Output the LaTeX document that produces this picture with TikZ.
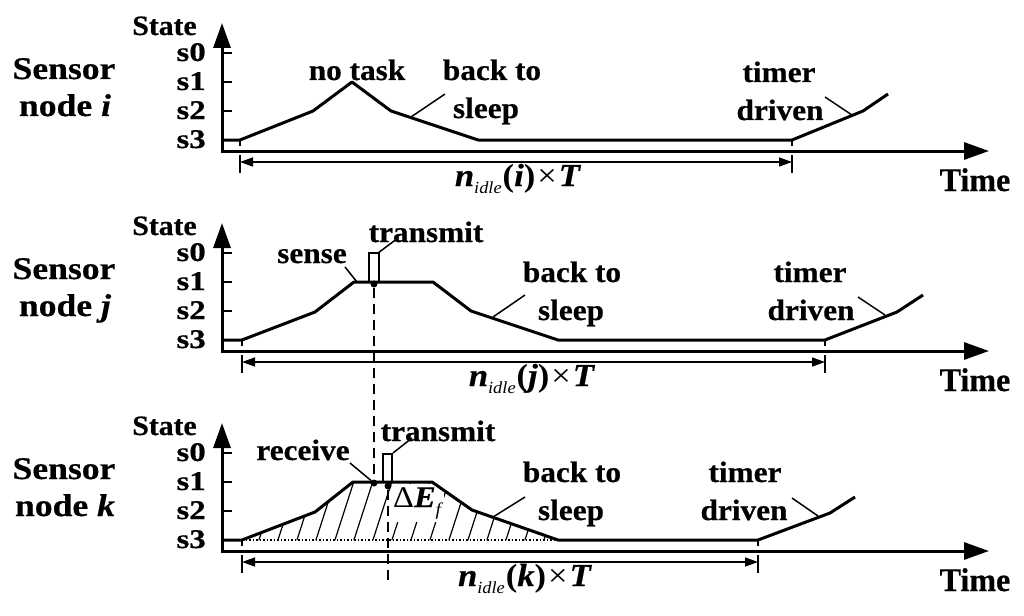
\documentclass[tikz,border=0pt]{standalone}
\usepackage{fontspec}
\setmainfont{Liberation Serif}
\newfontfamily\fSen{Liberation Serif}[FakeStretch=1.13, BoldFeatures={FakeBold=0.5}, BoldItalicFeatures={FakeBold=0.5}]
\newfontfamily\fLab{Liberation Serif}[FakeStretch=1.06, BoldFeatures={FakeBold=0.5}]
\newfontfamily\fSt{Liberation Serif}[FakeStretch=1.22, BoldFeatures={FakeBold=0.5}]
\newfontfamily\fTi{Liberation Serif}[FakeStretch=0.97, BoldFeatures={FakeBold=0.5}]
\newfontfamily\fMa{Liberation Serif}[FakeStretch=1.08, BoldItalicFeatures={FakeBold=0.5}]
\usetikzlibrary{arrows.meta}
\newcommand{\nidl}[1]{\textbf{\textit{n}}\raisebox{-7pt}{\fontsize{17}{17}\selectfont\textit{idle}}\kern1pt\textbf{(\textit{#1})}\kern2pt×\kern2pt\textbf{\textit{T}}}
\tikzset{
  sen/.style={font=\fSen\bfseries\fontsize{31.5}{33}\selectfont, inner sep=0pt, anchor=base},
  lab/.style={font=\fLab\bfseries\fontsize{29.5}{31}\selectfont, inner sep=0pt, anchor=base},
  stl/.style={font=\fLab\bfseries\fontsize{28}{30}\selectfont, inner sep=0pt, anchor=base},
  sl/.style={font=\fSt\bfseries\fontsize{27}{29}\selectfont, inner sep=0pt, anchor=base east},
  tim/.style={font=\fTi\bfseries\fontsize{33}{35}\selectfont, inner sep=0pt, anchor=base},
  mth/.style={font=\fMa\fontsize{32}{34}\selectfont, inner sep=0pt, anchor=base},
  curve/.style={line width=3pt, line join=round},
  pulse/.style={line width=2pt},
  ptr/.style={line width=1.5pt},
  tk/.style={line width=2pt},
  bar/.style={line width=1.3pt},
  axis/.style={line width=3pt, line join=miter, {Triangle[length=25pt,width=17pt]}-{Triangle[length=25pt,width=17pt]}},
  dim/.style={line width=1.5pt, {Triangle[length=13pt,width=9pt]}-{Triangle[length=13pt,width=9pt]}},
  dashline/.style={line width=1.5pt, dash pattern=on 10pt off 6pt},
  dotline/.style={line width=1.3pt, dash pattern=on 1.5pt off 2pt},
  hatch/.style={line width=1.2pt},
  dot/.style={circle, fill=black, inner sep=0pt, minimum size=7pt}
}
\begin{document}
\begin{tikzpicture}[x=1pt,y=-1pt]
\useasboundingbox (0,0) rectangle (1024,615);

% ================= common panel parts =================
\foreach \dy/\nm in {0/i,200/j,400/k}{
  \node[sen] (sen\nm) at (64,79+\dy) {Sensor};
  \node[sen] (nod\nm) at (65,116+\dy) {node \textit{\nm}};
  \node[stl] (state\nm) at (164.5,35+\dy) {State};
  \node[sl] (sa\nm) at (206,61+\dy) {s0};
  \node[sl] (sb\nm) at (206,90+\dy) {s1};
  \node[sl] (sc\nm) at (206,119+\dy) {s2};
  \node[sl] (sd\nm) at (206,148+\dy) {s3};
  \coordinate (ytop\nm) at (222,23+\dy);
  \coordinate (orig\nm) at (222,151+\dy);
  \coordinate (xend\nm) at (989,151+\dy);
  \draw[axis] (ytop\nm) -- (orig\nm) -- (xend\nm);
  \draw[tk] (222,53+\dy) -- (232,53+\dy);
  \draw[tk] (222,82+\dy) -- (232,82+\dy);
  \draw[tk] (222,111+\dy) -- (232,111+\dy);
  \node[tim] (time\nm) at (975,191+\dy) {Time};
}

% ================= sensor node i =================
\draw[curve] (222,140) -- (240,140) -- (313,111) -- (352,82) -- (391,111) -- (478,140) -- (792,140) -- (863,111) -- (888,94);
\node[lab] (notask) at (357,80) {no task};
\node[lab] (backi) at (492,80) {back to};
\node[lab] (sleepi) at (486,118) {sleep};
\node[lab] (timeri) at (779,82) {timer};
\node[lab] (driveni) at (780,120) {driven};
\draw[ptr] (411,117) -- (445,94);
\draw[ptr] (852,115) -- (825,97);
\coordinate (dli) at (240,162);
\coordinate (dri) at (792,162);
\draw[bar] (240,140) -- (240,146) (240,155) -- (240,173);
\draw[bar] (792,140) -- (792,146) (792,155) -- (792,173);
\draw[dim] (dli) -- (dri);
\node[mth] (ni) at (518,186) {\nidl{i}};

% ================= sensor node j =================
\draw[curve] (222,340) -- (242,340) -- (315,312) -- (354,282) -- (433,282) -- (471,311) -- (558,340) -- (825,340) -- (897,312) -- (923,295);
\draw[pulse] (369,282) -- (369,253) -- (379,253) -- (379,282);
\node[dot] (txj) at (374,284) {};
\node[lab] (sense) at (312,263) {sense};
\node[lab] (transj) at (426,242) {transmit};
\node[lab] (backj) at (572,282) {back to};
\node[lab] (sleepj) at (571,320) {sleep};
\node[lab] (timerj) at (810,282) {timer};
\node[lab] (drivenj) at (811,320) {driven};
\draw[ptr] (345,267) -- (357,282);
\draw[ptr] (378,253) -- (398,238);
\draw[ptr] (493,317) -- (525,295);
\draw[ptr] (885,315) -- (858,297);
\coordinate (dlj) at (242,362);
\coordinate (drj) at (825,362);
\draw[bar] (242,340) -- (242,346) (242,355) -- (242,373);
\draw[bar] (825,340) -- (825,346) (825,355) -- (825,373);
\draw[dim] (dlj) -- (drj);
\node[mth] (nj) at (532,386) {\nidl{j}};

% ================= sensor node k =================
\begin{scope}
  \clip (242,540) -- (315,512) -- (353,482) -- (432,482) -- (472,510) -- (558,540) -- cycle;
  \foreach \x in {200,219,...,580} \draw[hatch] (\x,546) -- ({\x+22},478);
\end{scope}
\node[font=\fMa\fontsize{30}{32}\selectfont, fill=white, inner xsep=1pt, inner ysep=3pt, anchor=base west] (dE) at (392,507) {Δ\textbf{\textit{E}}\raisebox{-8pt}{\fontsize{18}{18}\selectfont\textit{f}}};
\draw[dotline] (242,540) -- (558,540);
\draw[curve] (222,540) -- (242,540) -- (315,512) -- (353,482) -- (432,482) -- (472,510) -- (558,540) -- (758,540) -- (830,513) -- (855,497);
\draw[pulse] (383,482) -- (383,454) -- (392,454) -- (392,482);
\node[dot] (rxk) at (374,483) {};
\node[dot] (txk) at (388,486) {};
\coordinate (dend) at (388,580);
\draw[dashline] (txj) -- (rxk);
\draw[dashline] (txk) -- (dend);
\node[lab] (receive) at (303,460) {receive};
\node[lab] (transk) at (438,441) {transmit};
\node[lab] (backk) at (572,482) {back to};
\node[lab] (sleepk) at (571,520) {sleep};
\node[lab] (timerk) at (745,482) {timer};
\node[lab] (drivenk) at (744,520) {driven};
\draw[ptr] (350,463) -- (rxk);
\draw[ptr] (393,453) -- (412,438);
\draw[ptr] (493,517) -- (525,497);
\draw[ptr] (818,516) -- (792,498);
\coordinate (dlk) at (242,562);
\coordinate (drk) at (758,562);
\draw[bar] (242,540) -- (242,546) (242,555) -- (242,573);
\draw[bar] (758,540) -- (758,546) (758,555) -- (758,573);
\draw[dim] (dlk) -- (drk);
\node[mth] (nk) at (525,586) {\nidl{k}};
\end{tikzpicture}
\end{document}
